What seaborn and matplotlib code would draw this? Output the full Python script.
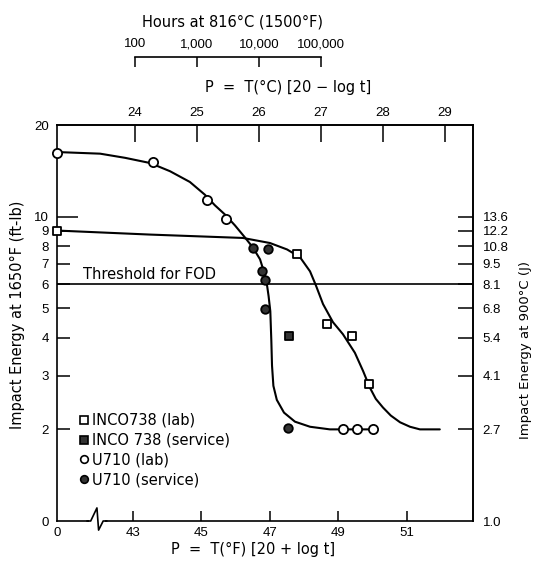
import numpy as np
import pandas as pd
import matplotlib
matplotlib.use("Agg")
import matplotlib.pyplot as plt
from matplotlib.lines import Line2D
from matplotlib.ticker import NullLocator
import seaborn as sns

sns.set_theme(style="ticks")
plt.rcParams['font.family'] = ['Liberation Sans', 'DejaVu Sans']
plt.rcParams['axes.linewidth'] = 1.2
plt.rcParams['axes.edgecolor'] = 'black'
plt.rcParams['text.color'] = 'black'
plt.rcParams['axes.labelcolor'] = 'black'

# fitted curves, P = T(F)[20 + log t] vs impact energy (ft-lb)
u710_curve_p = [40.78, 42.04, 42.77, 43.50, 44.08, 44.66, 45.10, 45.39, 45.69, 45.98, 46.27, 46.50,
                46.71, 46.82, 46.91, 46.96, 47.01, 47.04, 47.06, 47.10, 47.20, 47.41, 47.73, 48.17,
                48.75, 49.98]
u710_curve_e = [16.3, 16.1, 15.6, 15.0, 14.1, 13.0, 11.8, 10.9, 10.15, 9.35, 8.54, 7.92,
                7.24, 6.61, 6.00, 5.48, 4.89, 3.91, 3.24, 2.78, 2.50, 2.27, 2.12, 2.04,
                2.0, 2.0]
inco_curve_p = [40.78, 43.50, 46.21, 47.00, 47.50, 47.88, 48.17, 48.34, 48.55, 48.84, 49.13,
                49.48, 49.72, 49.92, 50.09, 50.30, 50.53, 50.80, 51.09, 51.38, 51.96]
inco_curve_e = [9.0, 8.73, 8.51, 8.19, 7.80, 7.35, 6.61, 5.95, 5.16, 4.50, 4.11,
                3.57, 3.11, 2.74, 2.52, 2.36, 2.22, 2.11, 2.04, 2.0, 2.0]

# measured points
inco_lab_p = [40.78, 47.78, 48.68, 49.39, 49.89]
inco_lab_e = [9.0, 7.55, 4.43, 4.06, 2.82]
inco_svc_p = [47.56]
inco_svc_e = [4.04]
u710_lab_p = [40.78, 43.58, 45.15, 45.73, 49.14, 49.55, 50.0]
u710_lab_e = [16.2, 15.1, 11.3, 9.83, 2.0, 2.0, 2.0]
u710_svc_p = [46.51, 46.95, 46.78, 46.86, 46.86, 47.53]
u710_svc_e = [7.88, 7.82, 6.65, 6.21, 4.99, 2.02]

threshold = 6.0

# axes ticks
x_min, x_max = 40.78, 52.93
x_ticks = [x_min, 43, 45, 47, 49, 51]
x_labels = ['0', '43', '45', '47', '49', '51']
y_ticks = [1, 2, 3, 4, 5, 6, 7, 8, 9, 10, 20]
y_labels = ['0', '2', '3', '4', '5', '6', '7', '8', '9', '10', '20']
j_ticks = [1, 2, 3, 4, 5, 6, 7, 8, 9, 10]
j_labels = ['1.0', '2.7', '4.1', '5.4', '6.8', '8.1', '9.5', '10.8', '12.2', '13.6']
c_ticks = [24, 25, 26, 27, 28, 29]
hour_ticks = [100, 1000, 10000, 100000]
hour_labels = ['100', '1,000', '10,000', '100,000']

LBL = dict(family=['DejaVu Sans'], fontsize=10.5, color='black')


def f_to_c(p):
    return 24 + (np.asarray(p) - 43.06) / 1.81


def c_to_f(c):
    return 43.06 + (np.asarray(c) - 24) * 1.81


def f_to_hours(p):
    return 10 ** (2 + (np.asarray(p) - 43.06) / 1.81)


def hours_to_f(h):
    h = np.clip(np.asarray(h, dtype=float), 1e-12, None)
    return 43.06 + (np.log10(h) - 2) * 1.81


fig = plt.figure(figsize=(5.34, 5.63), dpi=100)
ax = fig.add_axes([57 / 534, 1 - 521 / 563, 416 / 534, 396 / 563])

curves = pd.DataFrame({'p': u710_curve_p, 'e': u710_curve_e})
sns.lineplot(data=curves, x='p', y='e', ax=ax, color='black', lw=1.5, sort=False, estimator=None)
curves2 = pd.DataFrame({'p': inco_curve_p, 'e': inco_curve_e})
sns.lineplot(data=curves2, x='p', y='e', ax=ax, color='black', lw=1.5, sort=False, estimator=None)
ax.axhline(threshold, color='black', lw=1.2)

mk = dict(ax=ax, edgecolor='black', linewidth=1.3, clip_on=False, zorder=4, legend=False)
sns.scatterplot(x=inco_lab_p, y=inco_lab_e, marker='s', s=34, color='white', **mk)
sns.scatterplot(x=inco_svc_p, y=inco_svc_e, marker='s', s=34, color='#333333', **mk)
sns.scatterplot(x=u710_lab_p, y=u710_lab_e, marker='o', s=44, color='white', **mk)
sns.scatterplot(x=u710_svc_p, y=u710_svc_e, marker='o', s=38, color='#333333', **mk)

ax.annotate('Threshold for FOD', xy=(41.54, threshold), xytext=(0, 3.5),
            textcoords='offset points', va='baseline', **LBL)

ax.set_yscale('log')
ax.set_xlim(x_min, x_max)
ax.set_ylim(1, 20)
ax.set_xticks(x_ticks, labels=x_labels)
ax.set_yticks(y_ticks, labels=y_labels)
ax.yaxis.set_minor_locator(NullLocator())
ax.xaxis.set_minor_locator(NullLocator())
ax.tick_params(axis='both', direction='in', width=1.1, labelsize=9.5, colors='black')
ax.tick_params(axis='x', length=7, pad=4, top=False)
ax.tick_params(axis='y', length=9, pad=6, right=False)
for t, v in zip(ax.yaxis.get_major_ticks(), y_ticks):
    if v == 10:
        t.tick1line.set_markersize(15)
    if v in (1, 20):
        t.tick1line.set_markersize(0)
ax.xaxis.get_major_ticks()[0].tick1line.set_markersize(0)

ax.set_xlabel('P  =  T(°F) [20 + log t]', **LBL)
ax.xaxis.set_label_coords(0.471, -0.052)
ax.set_ylabel('Impact Energy at 1650°F (ft-lb)', **LBL)
ax.yaxis.set_label_coords(-0.077, 0.52)
for s in ax.spines.values():
    s.set_color('black')

# right axis in joules
sec_y = ax.secondary_yaxis('right')
sec_y.set_yticks(j_ticks, labels=j_labels)
sec_y.yaxis.set_minor_locator(NullLocator())
sec_y.tick_params(direction='in', length=11, width=1.1, pad=7, labelsize=9.5, colors='black')
sec_y.yaxis.get_major_ticks()[0].tick1line.set_markersize(0)
sec_y.yaxis.get_major_ticks()[0].tick2line.set_markersize(0)
fig.text(0.984, 1 - 350 / 563, 'Impact Energy at 900°C (J)', rotation=90,
         ha='center', va='center', family=['DejaVu Sans'], fontsize=9.5, color='black')

# top axis: P in celsius
sec_c = ax.secondary_xaxis('top', functions=(f_to_c, c_to_f))
sec_c.set_xticks(c_ticks)
sec_c.xaxis.set_minor_locator(NullLocator())
sec_c.tick_params(direction='in', length=12, width=1.1, pad=4, labelsize=9.5, colors='black')
fig.text(288 / 534, 1 - 87 / 563, 'P  =  T(°C) [20 − log t]', ha='center', va='center', **LBL)

# hours bracket
sec_h = ax.secondary_xaxis(1 + 68 / 396, functions=(f_to_hours, hours_to_f))
sec_h.set_xticks(hour_ticks, labels=hour_labels)
sec_h.xaxis.set_minor_locator(NullLocator())
sec_h.tick_params(direction='in', length=7, width=1.1, pad=5, labelsize=9.5, colors='black')
sec_h.spines['top'].set_bounds(hour_ticks[0], hour_ticks[-1])
sec_h.spines['top'].set_linewidth(1.2)
fig.text(233 / 534, 1 - 22 / 563, 'Hours at 816°C (1500°F)', ha='center', va='center', **LBL)

# axis break on the bottom spine
tr = ax.transAxes
ax.plot([0.081, 0.111], [0, 0], color='white', lw=3, transform=tr, clip_on=False, zorder=5)
ax.plot([0.072, 0.081, 0.096, 0.100, 0.111, 0.12], [0, 0, 0.033, -0.023, 0, 0],
        color='black', lw=1.2, transform=tr, clip_on=False, zorder=6)

handles = [
    Line2D([], [], ls='', marker='s', ms=5.5, mfc='white', mec='black', mew=1.2),
    Line2D([], [], ls='', marker='s', ms=5.5, mfc='#333333', mec='black', mew=1.2),
    Line2D([], [], ls='', marker='o', ms=5.5, mfc='white', mec='black', mew=1.2),
    Line2D([], [], ls='', marker='o', ms=5.5, mfc='#333333', mec='black', mew=1.2),
]
labels = ['INCO738 (lab)', 'INCO 738 (service)', 'U710 (lab)', 'U710 (service)']
leg = ax.legend(handles, labels, loc='upper left', bbox_to_anchor=(0.056, 0.273), frameon=False,
                handlelength=0.5, handletextpad=0.3, labelspacing=0.33, borderaxespad=0,
                borderpad=0, prop={'family': 'DejaVu Sans', 'size': 10.5})
for txt in leg.get_texts():
    txt.set_color('black')

fig.savefig('out.png', dpi=100)
